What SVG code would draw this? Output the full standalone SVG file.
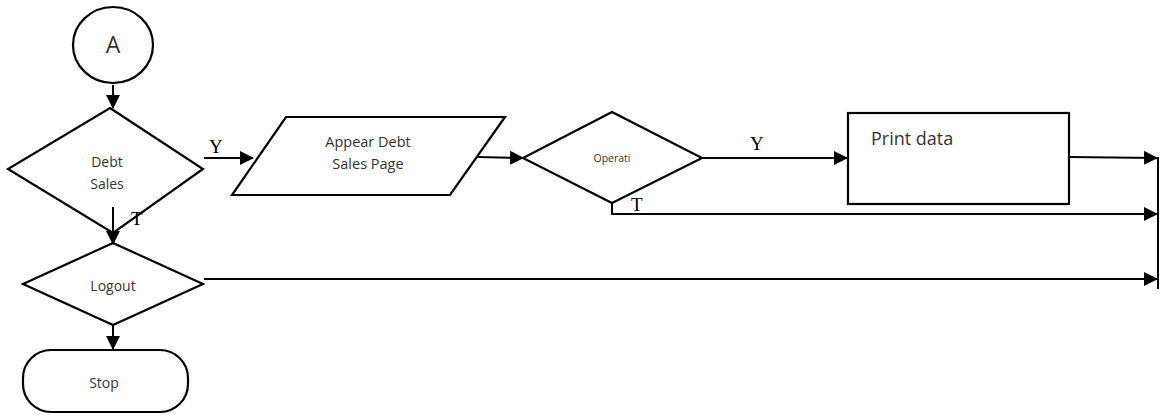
<svg xmlns="http://www.w3.org/2000/svg" width="1161" height="415" viewBox="0 0 1161 415">
  <defs>
    <marker id="arrow" markerUnits="userSpaceOnUse" markerWidth="14" markerHeight="14" refX="13" refY="7" orient="auto">
      <path d="M0,0 L14,7 L0,14 z" fill="#000"/>
    </marker>
    <style>
      .shape { fill: #fff; stroke: #000; stroke-width: 2.2; }
      .edge { fill: none; stroke: #000; stroke-width: 2; }
      .lbl { font-family: "Open Sans", "Liberation Sans", sans-serif; fill: #333; text-anchor: middle; }
      .yt { font-family: "Liberation Serif", serif; font-size: 19px; fill: #000; }
    </style>
  </defs>
  <rect width="1161" height="415" fill="#fff"/>

  <!-- connector A -->
  <g id="node-a">
    <ellipse class="shape" cx="113" cy="45" rx="40" ry="38"/>
    <text class="lbl" x="113" y="53" font-size="23">A</text>
  </g>

  <!-- decision: Debt Sales -->
  <g id="node-debt-sales">
    <polygon class="shape" points="110,108 203,169 113,233 8,169"/>
    <text class="lbl" x="107" y="167" font-size="14">Debt</text>
    <text class="lbl" x="107" y="189" font-size="14">Sales</text>
  </g>

  <!-- input/output: Appear Debt Sales Page -->
  <g id="node-appear-page">
    <polygon class="shape" points="286,117 505,117 450,195 232,195"/>
    <text class="lbl" x="368" y="147" font-size="14.5">Appear Debt</text>
    <text class="lbl" x="368" y="169" font-size="14.5">Sales Page</text>
  </g>

  <!-- decision: Operati -->
  <g id="node-operati">
    <polygon class="shape" points="612,112 702,158 612,203 523,158"/>
    <text class="lbl" x="612" y="162" font-size="10.5">Operati</text>
  </g>

  <!-- process: Print data -->
  <g id="node-print">
    <rect class="shape" x="848" y="113" width="221" height="91"/>
    <text class="lbl" x="871" y="145" font-size="18" style="text-anchor:start">Print data</text>
  </g>

  <!-- decision: Logout -->
  <g id="node-logout">
    <polygon class="shape" points="113,243 203,284 113,325 23,284"/>
    <text class="lbl" x="113" y="291" font-size="14">Logout</text>
  </g>

  <!-- terminator: Stop -->
  <g id="node-stop">
    <rect class="shape" x="23" y="350" width="165" height="62" rx="28" ry="28"/>
    <text class="lbl" x="104" y="388" font-size="14">Stop</text>
  </g>

  <!-- connectors -->
  <g id="connectors">
    <line class="edge" x1="113" y1="85" x2="113" y2="108" marker-end="url(#arrow)"/>
    <line class="edge" x1="204" y1="158" x2="253" y2="158" marker-end="url(#arrow)"/>
    <text class="yt" x="209" y="153">Y</text>
    <line class="edge" x1="113" y1="207" x2="113" y2="244" marker-end="url(#arrow)"/>
    <text class="yt" x="131" y="225">T</text>
    <line class="edge" x1="478" y1="157" x2="523" y2="158" marker-end="url(#arrow)"/>
    <line class="edge" x1="702" y1="158" x2="847" y2="158" marker-end="url(#arrow)"/>
    <text class="yt" x="750" y="150">Y</text>
    <polyline class="edge" points="612,203 612,214 1157,214" marker-end="url(#arrow)"/>
    <text class="yt" x="631" y="211">T</text>
    <line class="edge" x1="1069" y1="157" x2="1157" y2="158" marker-end="url(#arrow)"/>
    <line class="edge" x1="204" y1="279" x2="1157" y2="279" marker-end="url(#arrow)"/>
    <line class="edge" x1="1158" y1="157" x2="1158" y2="289"/>
    <line class="edge" x1="113" y1="325" x2="113" y2="349" marker-end="url(#arrow)"/>
  </g>
</svg>
